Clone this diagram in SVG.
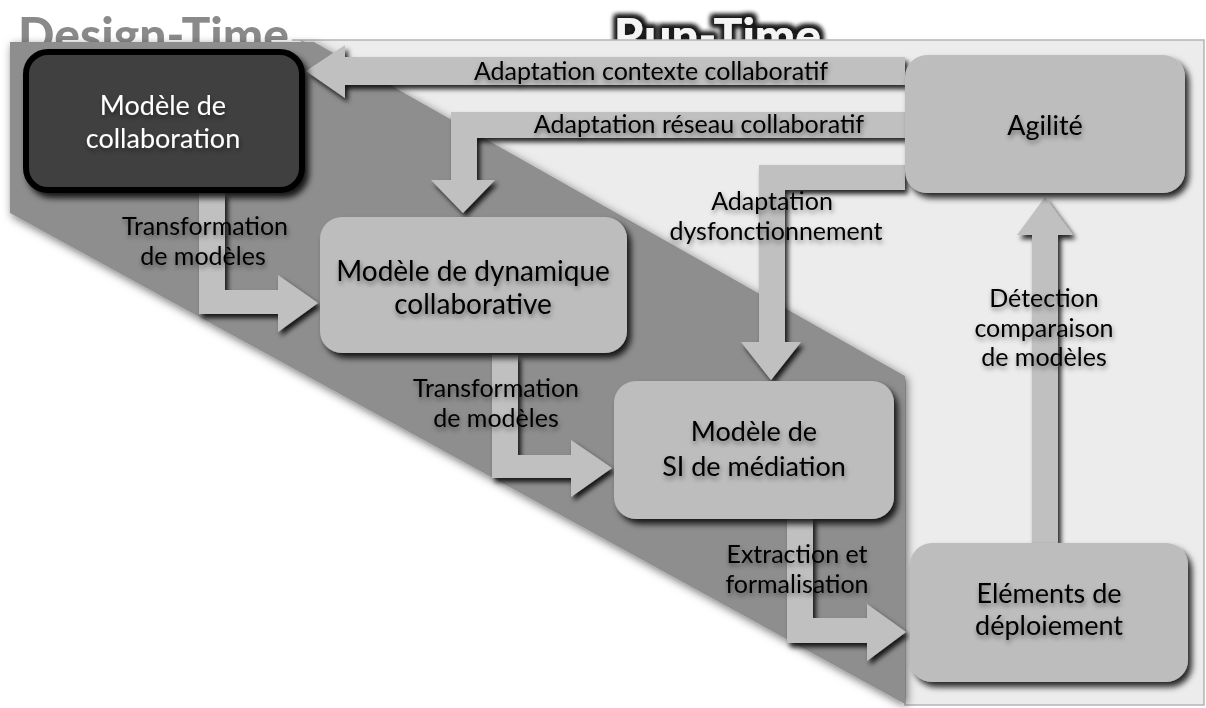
<svg xmlns="http://www.w3.org/2000/svg" width="1206" height="708" viewBox="0 0 1206 708">
<defs>
<style>
.t{font-family:Lato,"Noto Sans",sans-serif;text-anchor:middle;fill:#000}
.lbl{font-size:25px}
.nd{font-size:27px}
.box{fill:#bdbdbd}
.arr{fill:#c0c0c0;filter:url(#sh)}
.title{font-family:Lato,"Noto Sans",sans-serif;font-weight:900;font-size:48px}
</style>
<filter id="sh" x="-20%" y="-20%" width="150%" height="150%">
<feDropShadow dx="3" dy="4" stdDeviation="2.5" flood-color="#000" flood-opacity="0.85"/>
</filter>
<filter id="bsh" x="-10%" y="-10%" width="130%" height="130%">
<feDropShadow dx="4" dy="5" stdDeviation="3" flood-color="#000" flood-opacity="0.85"/>
</filter>
<filter id="psh" x="-10%" y="-10%" width="130%" height="130%">
<feDropShadow dx="2" dy="3" stdDeviation="5" flood-color="#000" flood-opacity="0.55"/>
</filter>
<filter id="tsh" x="-10%" y="-30%" width="130%" height="170%">
<feDropShadow dx="1" dy="3" stdDeviation="2.5" flood-color="#000" flood-opacity="0.45"/>
</filter>
<filter id="wglow" x="-10%" y="-30%" width="130%" height="170%">
<feMorphology in="SourceAlpha" operator="dilate" radius="2" result="d"/>
<feGaussianBlur in="d" stdDeviation="2" result="b"/>
<feFlood flood-color="#fff" flood-opacity="0.9"/>
<feComposite in2="b" operator="in" result="g"/>
<feMerge><feMergeNode in="g"/><feMergeNode in="SourceGraphic"/></feMerge>
</filter>
<filter id="dglow" x="-10%" y="-30%" width="130%" height="170%">
<feMorphology in="SourceAlpha" operator="dilate" radius="3" result="d"/>
<feGaussianBlur in="d" stdDeviation="2.5" result="b"/>
<feFlood flood-color="#1a1a1a" flood-opacity="1"/>
<feComposite in2="b" operator="in" result="g"/>
<feMerge><feMergeNode in="g"/><feMergeNode in="g"/><feMergeNode in="SourceGraphic"/></feMerge>
</filter>
</defs>
<rect width="1206" height="708" fill="#fff"/>

<g id="titles">
<text class="title" x="18" y="52" fill="#8a8a8a" filter="url(#wglow)">Design-Time</text>
<text class="title" x="614" y="53" fill="#f4f4f4" filter="url(#dglow)">Run-Time</text>
</g>

<g id="runtime-panel">
<polygon points="292,40 1204,40 1204,705 905,705 905,380 300,40" fill="#ececec" stroke="#b4b4b4" stroke-width="1.5"/>
</g>
<g id="designtime-panel">
<polygon points="10,42 314,42 905,376 905,704 10,213" fill="#8e8e8e" filter="url(#psh)"/>
</g>

<g id="connectors">
<polygon class="arr" points="905,57 345,57 345,45 306,71 345,98 345,85 905,85"/>
<polygon class="arr" points="905,112 451,112 451,180 431,180 463,213 495,180 477,180 477,138 905,138"/>
<polygon class="arr" points="905,165 759,165 759,342 741,342 771,380 801,342 785,342 785,190 905,190"/>
<polygon class="arr" points="199,193 199,314 278,314 278,332 318,303 278,275 278,290 225,290 225,193"/>
<polygon class="arr" points="492,355 492,478 571,478 571,497 612,468 571,440 571,455 518,455 518,355"/>
<polygon class="arr" points="787,518 787,643 867,643 867,661 906,632 867,604 867,618 813,618 813,518"/>
<polygon class="arr" points="1032,543 1032,235 1017,235 1045,197 1073,235 1058,235 1058,543"/>
<g class="t lbl" filter="url(#tsh)">
<text x="651" y="80">Adaptation contexte collaboratif</text>
<text x="699" y="133">Adaptation réseau collaboratif</text>
<text x="772" y="210">Adaptation</text>
<text x="776" y="240">dysfonctionnement</text>
<text x="205" y="235">Transformation</text>
<text x="203" y="265">de modèles</text>
<text x="496" y="397">Transformation</text>
<text x="496" y="427">de modèles</text>
<text x="797" y="563">Extraction et</text>
<text x="797" y="593">formalisation</text>
<text x="1044" y="307">Détection</text>
<text x="1044" y="337">comparaison</text>
<text x="1044" y="366">de modèles</text>
</g>
</g>

<g id="node-collaboration">
<rect x="26" y="52" width="276" height="138" rx="22" fill="#404040" stroke="#000" stroke-width="6" filter="url(#bsh)"/>
<g class="t nd" style="fill:#fff" filter="url(#tsh)">
<text x="163" y="115">Modèle de</text>
<text x="163" y="148">collaboration</text>
</g>
</g>

<g id="node-dynamique">
<rect class="box" x="320" y="217" width="307" height="136" rx="22" filter="url(#bsh)"/>
<g class="t nd" style="font-size:28px" filter="url(#tsh)">
<text x="473" y="281">Modèle de dynamique</text>
<text x="473" y="314">collaborative</text>
</g>
</g>

<g id="node-si">
<rect class="box" x="614" y="381" width="280" height="138" rx="22" filter="url(#bsh)"/>
<g class="t nd" filter="url(#tsh)">
<text x="754" y="441">Modèle de</text>
<text x="754" y="476">SI de médiation</text>
</g>
</g>

<g id="node-agilite">
<rect class="box" x="905" y="55" width="280" height="138" rx="22" filter="url(#bsh)"/>
<g class="t nd" filter="url(#tsh)">
<text x="1045" y="135">Agilité</text>
</g>
</g>

<g id="node-elements">
<rect class="box" x="910" y="543" width="278" height="139" rx="22" filter="url(#bsh)"/>
<g class="t nd" filter="url(#tsh)">
<text x="1049" y="603">Eléments de</text>
<text x="1049" y="635">déploiement</text>
</g>
</g>
</svg>
